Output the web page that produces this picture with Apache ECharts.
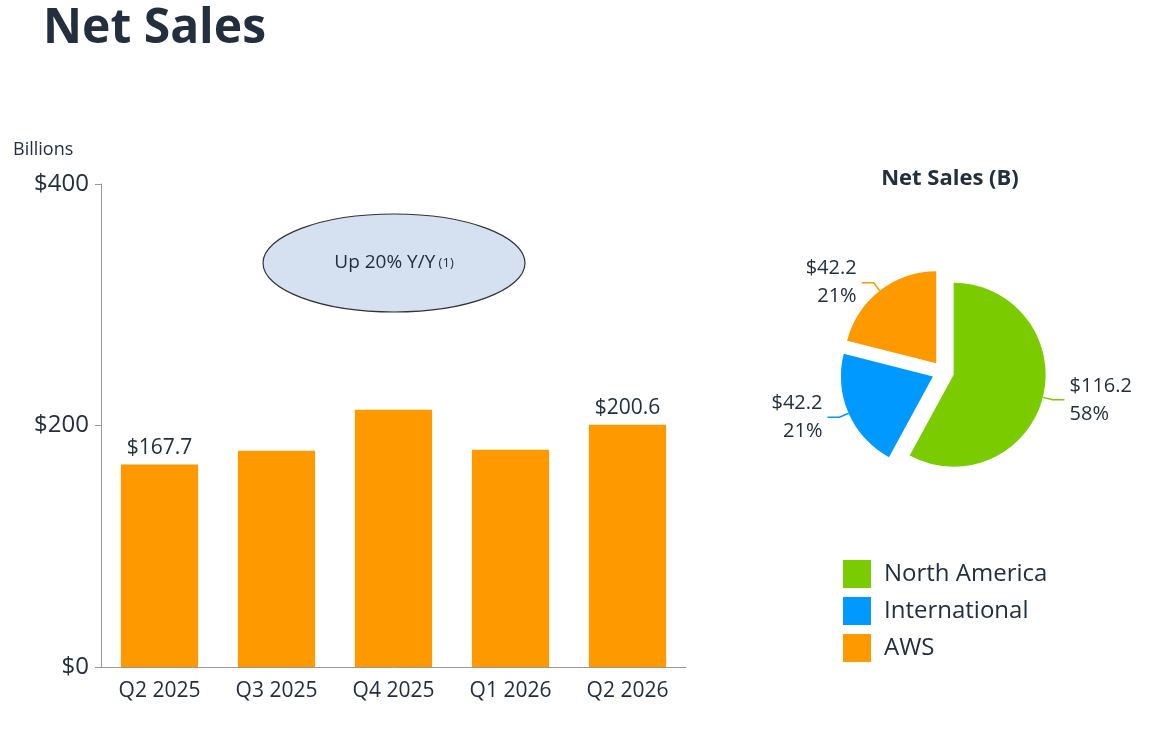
<!DOCTYPE html>
<html>
<head>
<meta charset="utf-8">
<script src="https://cdn.jsdelivr.net/npm/echarts@6/dist/echarts.min.js"></script>
<style>
  html, body { margin: 0; padding: 0; background: #fff; }
  #main { width: 1169px; height: 741px; }
</style>
</head>
<body>
<div id="main"></div>
<script>
var quarters = ['Q2 2025', 'Q3 2025', 'Q4 2025', 'Q1 2026', 'Q2 2026'];
var netSales = [167.7, 179.0, 213.0, 180.0, 200.6];
var shownLabels = [true, false, false, false, true];
var yTicks = [0, 200, 400];

var segments = ['North America', 'International', 'AWS'];
var segmentSales = [116.2, 42.2, 42.2];
var segmentShare = ['58%', '21%', '21%'];
var segmentColors = ['#7acc00', '#0099ff', '#ff9900'];

var font = '"Open Sans", "Noto Sans", sans-serif';
var chart = echarts.init(document.getElementById('main'));

var barData = netSales.map(function (v, i) {
    return {
        value: v,
        label: { show: shownLabels[i] }
    };
});

var pieData = segments.map(function (name, i) {
    return {
        name: name,
        value: segmentSales[i],
        selected: true,
        itemStyle: { color: segmentColors[i] },
        label: { formatter: '$' + segmentSales[i].toFixed(1) + '\n' + segmentShare[i] }
    };
});

var option = {
    animation: false,
    textStyle: { fontFamily: font },
    title: [
        {
            text: 'Net Sales', left: 38, top: 0,
            textStyle: { fontSize: 48, fontWeight: 'bold', color: '#232f3e', fontFamily: font }
        },
        {
            text: 'Net Sales (B)', left: 945, top: 163, textAlign: 'center',
            textStyle: { fontSize: 22, fontWeight: 'bold', color: '#232f3e', fontFamily: font }
        }
    ],
    legend: {
        orient: 'vertical',
        left: 838, top: 555,
        itemWidth: 28, itemHeight: 28, itemGap: 9,
        icon: 'rect',
        data: segments,
        textStyle: { fontSize: 24, color: '#232f3e', fontFamily: font, padding: [0, 0, 0, 8] }
    },
    grid: { left: 101, top: 184, width: 585, height: 483 },
    xAxis: {
        type: 'category',
        data: quarters,
        axisLine: { lineStyle: { color: '#999' } },
        axisTick: { show: false },
        axisLabel: { fontSize: 21, color: '#232f3e', margin: 14 }
    },
    yAxis: {
        type: 'value',
        min: 0, max: 400, interval: 200,
        name: 'Billions',
        nameLocation: 'end',
        nameGap: 25,
        nameTextStyle: { fontSize: 18, color: '#232f3e', align: 'left', padding: [0, 0, 0, -88] },
        axisLine: { show: true, lineStyle: { color: '#999' } },
        axisTick: { show: true, length: 6, lineStyle: { color: '#999' } },
        splitLine: { show: false },
        axisLabel: {
            fontSize: 24, color: '#232f3e', margin: 12,
            formatter: function (v) { return yTicks.indexOf(v) >= 0 ? '$' + v : ''; }
        }
    },
    series: [
        {
            type: 'bar',
            data: barData,
            barWidth: '66%',
            itemStyle: { color: '#ff9900' },
            label: {
                position: 'top', fontSize: 21, color: '#232f3e', distance: 6,
                formatter: function (p) { return '$' + p.value.toFixed(1); }
            }
        },
        {
            type: 'pie',
            center: [943, 372],
            radius: 92,
            startAngle: 90,
            selectedMode: 'multiple',
            selectedOffset: 11,
            data: pieData,
            label: {
                position: 'outside', fontSize: 20, color: '#232f3e',
                lineHeight: 28, align: 'left'
            },
            labelLine: { length: 10, length2: 12, lineStyle: { width: 1.5 } }
        }
    ],
    graphic: [
        {
            type: 'ellipse',
            shape: { cx: 394, cy: 263, rx: 131, ry: 49 },
            style: { fill: '#d5e0f1', stroke: '#333', lineWidth: 1.2 }
        },
        {
            type: 'text',
            x: 394, y: 263,
            style: {
                text: '{a|Up 20% Y/Y} {b|(1)}',
                align: 'center', verticalAlign: 'middle',
                rich: {
                    a: { fontSize: 19, fill: '#232f3e', fontFamily: font },
                    b: { fontSize: 13, fill: '#232f3e', fontFamily: font }
                }
            }
        }
    ]
};

chart.setOption(option);
</script>
</body>
</html>
